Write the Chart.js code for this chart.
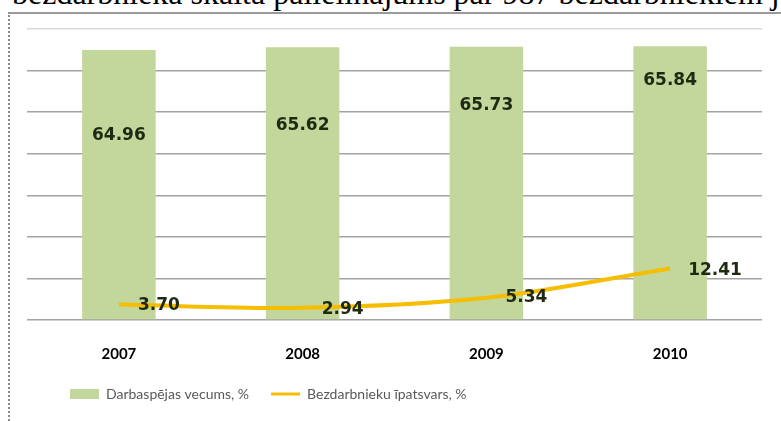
<!DOCTYPE html>
<html>
<head>
<meta charset="utf-8">
<script src="https://cdn.jsdelivr.net/npm/chart.js@4/dist/chart.umd.min.js"></script>
<style>
  body { margin: 0; background: #fff; overflow: hidden; }
  #txt { position: absolute; left: 12px; top: -23px; font: 32px/32px "Liberation Serif", "Times New Roman", serif; white-space: nowrap; color: #000; }
  #frame { position: absolute; left: 8px; top: 12px; right: 0; bottom: 0; border-top: 2px solid #9a9a9a; border-left: 2px dotted #8a8a8a; }
  #wrap { position: absolute; left: 0; top: 0; width: 781px; height: 421px; }
</style>
</head>
<body>
<div id="txt">bezdarbnieka skaita palielinājums par 987 bezdarbniekiem j</div>
<div id="frame"></div>
<div id="wrap"><canvas id="chart"></canvas></div>
<script>
// dati
const years = ['2007', '2008', '2009', '2010'];
const workingAge = [64.96, 65.62, 65.73, 65.84];
const unemployed = [3.70, 2.94, 5.34, 12.41];
const yTicks = [0, 10, 20, 30, 40, 50, 60, 70];

// vērtību uzraksti (bars inside, line to the right)
const valueLabels = {
  id: 'valueLabels',
  afterDatasetsDraw(chart, args, opts) {
    const ctx = chart.ctx;
    ctx.save();
    ctx.font = 'bold 17px "DejaVu Sans", Verdana, sans-serif';
    ctx.fillStyle = '#1e2a12';
    ctx.textBaseline = 'middle';
    chart.getDatasetMeta(0).data.forEach((bar, i) => {
      ctx.textAlign = 'center';
      ctx.fillText(workingAge[i].toFixed(2), bar.x, bar.y + opts.barOffsets[i]);
    });
    chart.getDatasetMeta(1).data.forEach((pt, i) => {
      ctx.textAlign = 'left';
      ctx.fillText(unemployed[i].toFixed(2), pt.x + opts.lineDx[i], pt.y + opts.lineDy[i]);
    });
    ctx.restore();
  }
};

// move the legend a bit, like in the original
const legendShift = {
  id: 'legendShift',
  afterLayout(chart) {
    const l = chart.legend;
    l.left += 21; l.right += 21;
    l.top -= 15; l.bottom -= 15;
  }
};

new Chart(document.getElementById('chart'), {
  type: 'bar',
  data: {
    labels: years,
    datasets: [{
      label: 'Darbaspējas vecums, %',
      data: workingAge,
      backgroundColor: '#c3d69b',
      categoryPercentage: 1,
      barPercentage: 0.4,
      order: 1
    }, {
      type: 'line',
      label: 'Bezdarbnieku īpatsvars, %',
      data: unemployed,
      borderColor: '#f5be00',
      backgroundColor: '#f5be00',
      borderWidth: 4,
      tension: 0.35,
      pointRadius: 0,
      order: 0
    }]
  },
  options: {
    responsive: true,
    maintainAspectRatio: false,
    animation: false,
    layout: { padding: { top: 29, left: 27, right: 19, bottom: -5 } },
    scales: {
      x: {
        grid: { display: false },
        border: { display: false },
        ticks: {
          color: '#000',
          padding: 17,
          font: { family: 'Lato, sans-serif', size: 15, weight: 'bold' }
        }
      },
      y: {
        min: 0,
        max: 70,
        afterBuildTicks: axis => { axis.ticks = yTicks.map(v => ({ value: v })); },
        ticks: { display: false },
        border: { display: false },
        grid: {
          drawTicks: false,
          lineWidth: 1.5,
          color: c => c.tick && c.tick.value === 70 ? '#dadada' : '#a3a3a3'
        }
      }
    },
    plugins: {
      tooltip: { enabled: false },
      legend: {
        position: 'bottom',
        align: 'start',
        labels: {
          color: '#595959',
          padding: 22,
          boxHeight: 10,
          usePointStyle: true,
          pointStyleWidth: 29,
          font: { family: 'Lato, sans-serif', size: 14 },
          sort: (a, b) => a.datasetIndex - b.datasetIndex,
          generateLabels(chart) {
            const items = Chart.defaults.plugins.legend.labels.generateLabels(chart);
            items.forEach(it => {
              if (it.datasetIndex === 0) { it.pointStyle = 'rect'; it.lineWidth = 0; }
              else { it.pointStyle = 'line'; it.lineWidth = 3; }
            });
            return items;
          }
        }
      },
      valueLabels: {
        barOffsets: [86, 78, 59, 34],
        lineDx: [19, 19, 19, 18],
        lineDy: [1, 2, 0, 2]
      }
    }
  },
  plugins: [valueLabels, legendShift]
});
</script>
</body>
</html>
